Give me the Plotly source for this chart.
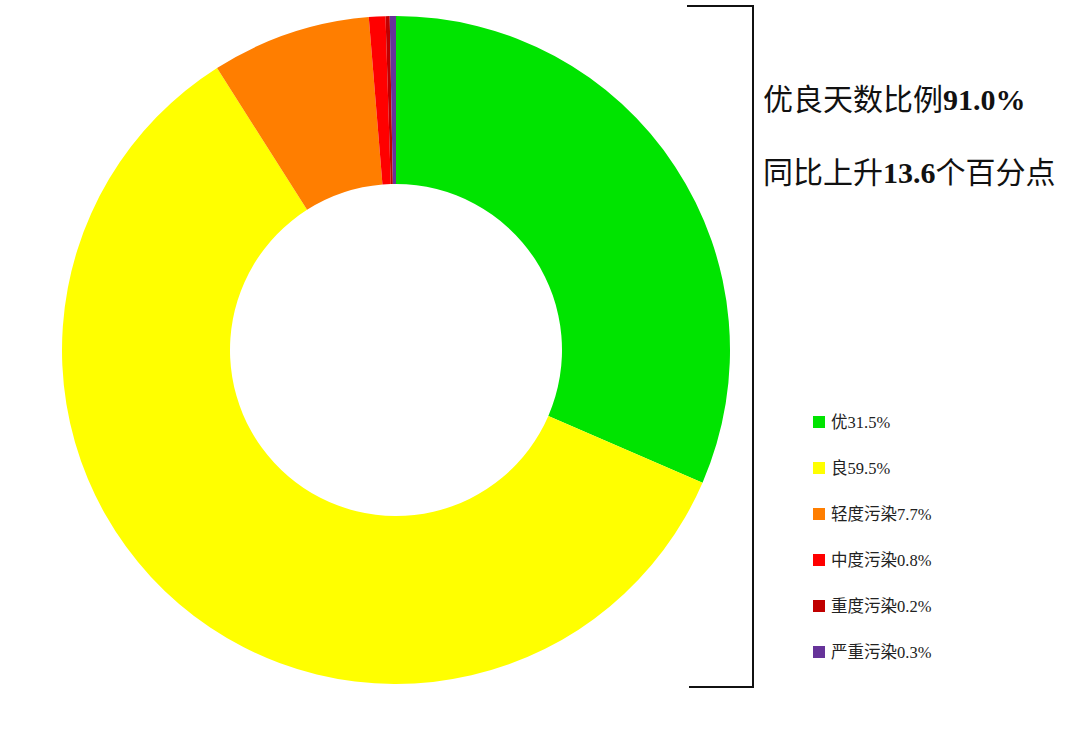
import plotly.graph_objects as go

categories = ["优", "良", "轻度污染", "中度污染", "重度污染", "严重污染"]
values = [31.5, 59.5, 7.7, 0.8, 0.2, 0.3]
colors = ["#00E400", "#FFFF00", "#FF7E00", "#FF0000", "#C00000", "#663399"]
headline_ratio = "91.0%"
headline_change = "13.6"

W, H = 1080, 754
FONT = "Liberation Serif, Times New Roman, Noto Sans CJK SC, serif"

def px(x):
    return x / W

def py(y):
    return 1 - y / H

fig = go.Figure()
fig.add_trace(go.Pie(
    labels=categories,
    values=values,
    marker=dict(colors=colors, line=dict(width=0)),
    hole=0.497,
    sort=False,
    direction="clockwise",
    rotation=0,
    textinfo="none",
    hoverinfo="label+percent",
    showlegend=False,
    domain=dict(x=[px(62), px(730)], y=[py(684), py(16)]),
))

shapes = []
# bracket
shapes.append(dict(
    type="path", xref="paper", yref="paper",
    path=f"M {px(687)} {py(6)} L {px(753)} {py(6)} L {px(753)} {py(687)} L {px(689)} {py(687)}",
    line=dict(color="#111111", width=2),
))

annotations = [
    dict(x=px(761), y=py(100), xref="paper", yref="paper", xanchor="left", yanchor="middle",
         text=f"优良天数比例<b>{headline_ratio}</b>", showarrow=False,
         font=dict(family=FONT, size=30, color="#111111")),
    dict(x=px(761), y=py(172), xref="paper", yref="paper", xanchor="left", yanchor="middle",
         text=f"同比上升<b>{headline_change}</b>个百分点", showarrow=False,
         font=dict(family=FONT, size=30, color="#111111")),
]

y0, dy = 422, 46
for i, (c, v, col) in enumerate(zip(categories, values, colors)):
    yc = y0 + i * dy
    shapes.append(dict(type="rect", xref="paper", yref="paper",
                       x0=px(813), x1=px(825), y0=py(yc - 6), y1=py(yc + 6),
                       fillcolor=col, line=dict(width=0)))
    annotations.append(dict(x=px(829), y=py(yc), xref="paper", yref="paper",
                            xanchor="left", yanchor="middle", showarrow=False,
                            text=f"{c}{v}%",
                            font=dict(family=FONT, size=16.5, color="#222222")))

fig.update_layout(
    width=W, height=H,
    margin=dict(l=0, r=0, t=0, b=0),
    paper_bgcolor="white", plot_bgcolor="white",
    shapes=shapes, annotations=annotations,
)

fig.write_html("out.html", config={"displayModeBar": False},
               post_script="document.body.style.margin='0';")
